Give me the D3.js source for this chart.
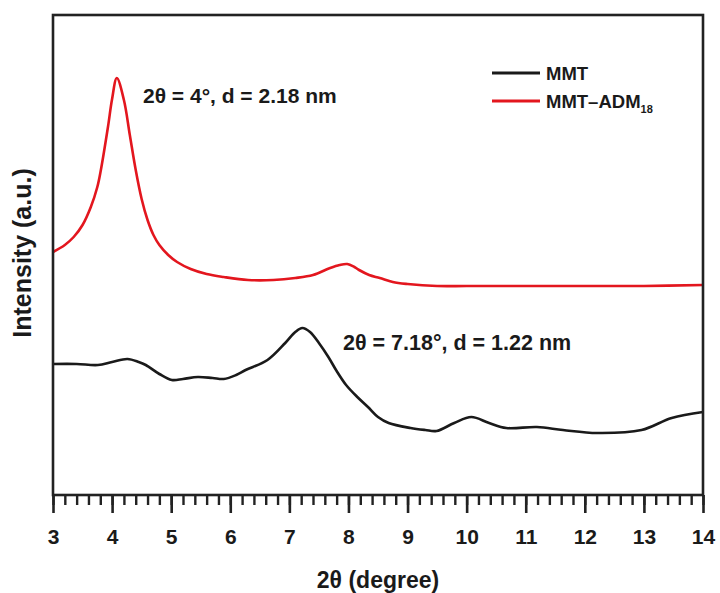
<!DOCTYPE html>
<html>
<head>
<meta charset="utf-8">
<script src="https://cdn.jsdelivr.net/npm/d3@7"></script>
<style>
  body { margin: 0; background: #fff; }
  text { font-family: "Liberation Sans", Arial, sans-serif; font-weight: bold; fill: #1a1a1a; }
</style>
</head>
<body>
<div id="vis"></div>
<script>
// Frame constants
const FRAME_WIDTH = 720;
const FRAME_HEIGHT = 593;
const MARGINS = {left: 53, right: 17, top: 15, bottom: 98};
const VIS_WIDTH = FRAME_WIDTH - MARGINS.left - MARGINS.right;
const VIS_HEIGHT = FRAME_HEIGHT - MARGINS.top - MARGINS.bottom;

// Data (2theta in degrees, intensity in a.u.)
const mmtX = [3.0, 3.4, 3.76, 4.0, 4.26, 4.45, 4.57, 4.8, 5.01, 5.2, 5.45, 5.7, 5.89, 6.1, 6.26, 6.63,
              6.93, 7.1, 7.22, 7.35, 7.5, 7.66, 7.8, 7.96, 8.15, 8.33, 8.5, 8.68, 9.05, 9.3, 9.49, 9.79, 10.08,
              10.38, 10.67, 11.19, 11.63, 12.21, 12.96, 13.47, 14.0];
const mmtY = [131, 131, 130, 133, 136, 133, 130, 121, 115, 116, 118, 117, 116, 120, 125, 135,
              152, 163, 167, 163, 152, 138, 124, 110, 98, 88, 78, 72, 67, 65, 64, 72, 78,
              72, 67, 68, 65, 62, 65, 77, 83];

const admX = [3.0, 3.2, 3.35, 3.5, 3.64, 3.75, 3.81, 3.93, 4.0, 4.08, 4.2, 4.3, 4.4, 4.5, 4.6,
              4.7, 4.8, 4.95, 5.1, 5.33, 5.6, 5.89, 6.3, 6.73, 7.1, 7.4, 7.69, 7.85, 7.98,
              8.1, 8.18, 8.35, 8.53, 8.75, 9.0, 9.5, 10, 11, 12, 13, 14];
const admY = [243, 250, 258, 270, 288, 308, 325, 368, 396, 417, 395, 360, 325, 296, 275,
              260, 250, 240, 233, 226, 221, 218, 215, 215, 217, 220, 227, 230, 231,
              228, 225, 220, 217, 213, 211, 209, 209, 209, 209, 209, 210];

const xTicks = [3, 4, 5, 6, 7, 8, 9, 10, 11, 12, 13, 14];
const seriesNames = ["MMT", "MMT\u2013ADM"];
const seriesColors = ["#1a1a1a", "#e3161e"];

const FRAME = d3.select("#vis")
  .append("svg")
    .attr("width", FRAME_WIDTH)
    .attr("height", FRAME_HEIGHT);

const X_SCALE = d3.scaleLinear().domain([3, 14]).range([0, VIS_WIDTH]);
const Y_SCALE = d3.scaleLinear().domain([0, 480]).range([VIS_HEIGHT, 0]);

const G = FRAME.append("g")
  .attr("transform", "translate(" + MARGINS.left + "," + MARGINS.top + ")");

// curves
const line = d3.line()
  .x(d => X_SCALE(d[0]))
  .y(d => Y_SCALE(d[1]))
  .curve(d3.curveCatmullRom.alpha(0.5));

G.append("path")
  .datum(d3.zip(mmtX, mmtY))
  .attr("d", line)
  .attr("fill", "none")
  .attr("stroke", seriesColors[0])
  .attr("stroke-width", 2.6);

G.append("path")
  .datum(d3.zip(admX, admY))
  .attr("d", line)
  .attr("fill", "none")
  .attr("stroke", seriesColors[1])
  .attr("stroke-width", 2.6);

// frame box
G.append("rect")
  .attr("width", VIS_WIDTH)
  .attr("height", VIS_HEIGHT)
  .attr("fill", "none")
  .attr("stroke", "#222")
  .attr("stroke-width", 2.6);

// minor ticks
const minor = d3.range(3, 14.001, 0.2).map(v => Math.round(v * 10) / 10);
G.append("g")
  .attr("transform", "translate(0," + VIS_HEIGHT + ")")
  .call(d3.axisBottom(X_SCALE).tickValues(minor).tickSize(10).tickFormat(""))
  .call(g => g.select(".domain").remove())
  .call(g => g.selectAll("line").attr("stroke", "#222").attr("stroke-width", 2.4));

// major ticks + labels
const xAxis = G.append("g")
  .attr("transform", "translate(0," + VIS_HEIGHT + ")")
  .call(d3.axisBottom(X_SCALE).tickValues(xTicks).tickSize(18).tickPadding(16).tickFormat(d3.format("d")));
xAxis.select(".domain").remove();
xAxis.selectAll("line").attr("stroke", "#222").attr("stroke-width", 2.6);
xAxis.selectAll("text")
  .attr("font-size", "21px")
  .attr("font-family", "'Liberation Sans', Arial, sans-serif")
  .attr("font-weight", "bold")
  .attr("fill", "#1a1a1a");

// axis titles
FRAME.append("text")
  .attr("x", MARGINS.left + VIS_WIDTH / 2)
  .attr("y", 588)
  .attr("text-anchor", "middle")
  .attr("font-size", "23px")
  .text("2\u03b8 (degree)");

FRAME.append("text")
  .attr("transform", "translate(31,253) rotate(-90)")
  .attr("text-anchor", "middle")
  .attr("font-size", "25px")
  .text("Intensity (a.u.)");

// annotations
FRAME.append("text")
  .attr("x", 143).attr("y", 103)
  .attr("font-size", "21px")
  .text("2\u03b8 = 4\u00b0, d = 2.18 nm");

FRAME.append("text")
  .attr("x", 343).attr("y", 350)
  .attr("font-size", "21.5px")
  .text("2\u03b8 = 7.18\u00b0, d = 1.22 nm");

// legend
const legendY = [73, 101];
const legend = FRAME.append("g");
seriesNames.forEach((name, i) => {
  legend.append("line")
    .attr("x1", 492).attr("x2", 540)
    .attr("y1", legendY[i]).attr("y2", legendY[i])
    .attr("stroke", seriesColors[i])
    .attr("stroke-width", 3);
  const t = legend.append("text")
    .attr("x", 546).attr("y", legendY[i] + 7)
    .attr("font-size", "18.5px")
    .text(name);
  if (i === 1) {
    t.append("tspan")
      .attr("font-size", "11px")
      .attr("dy", 5)
      .text("18");
  }
});
</script>
</body>
</html>
